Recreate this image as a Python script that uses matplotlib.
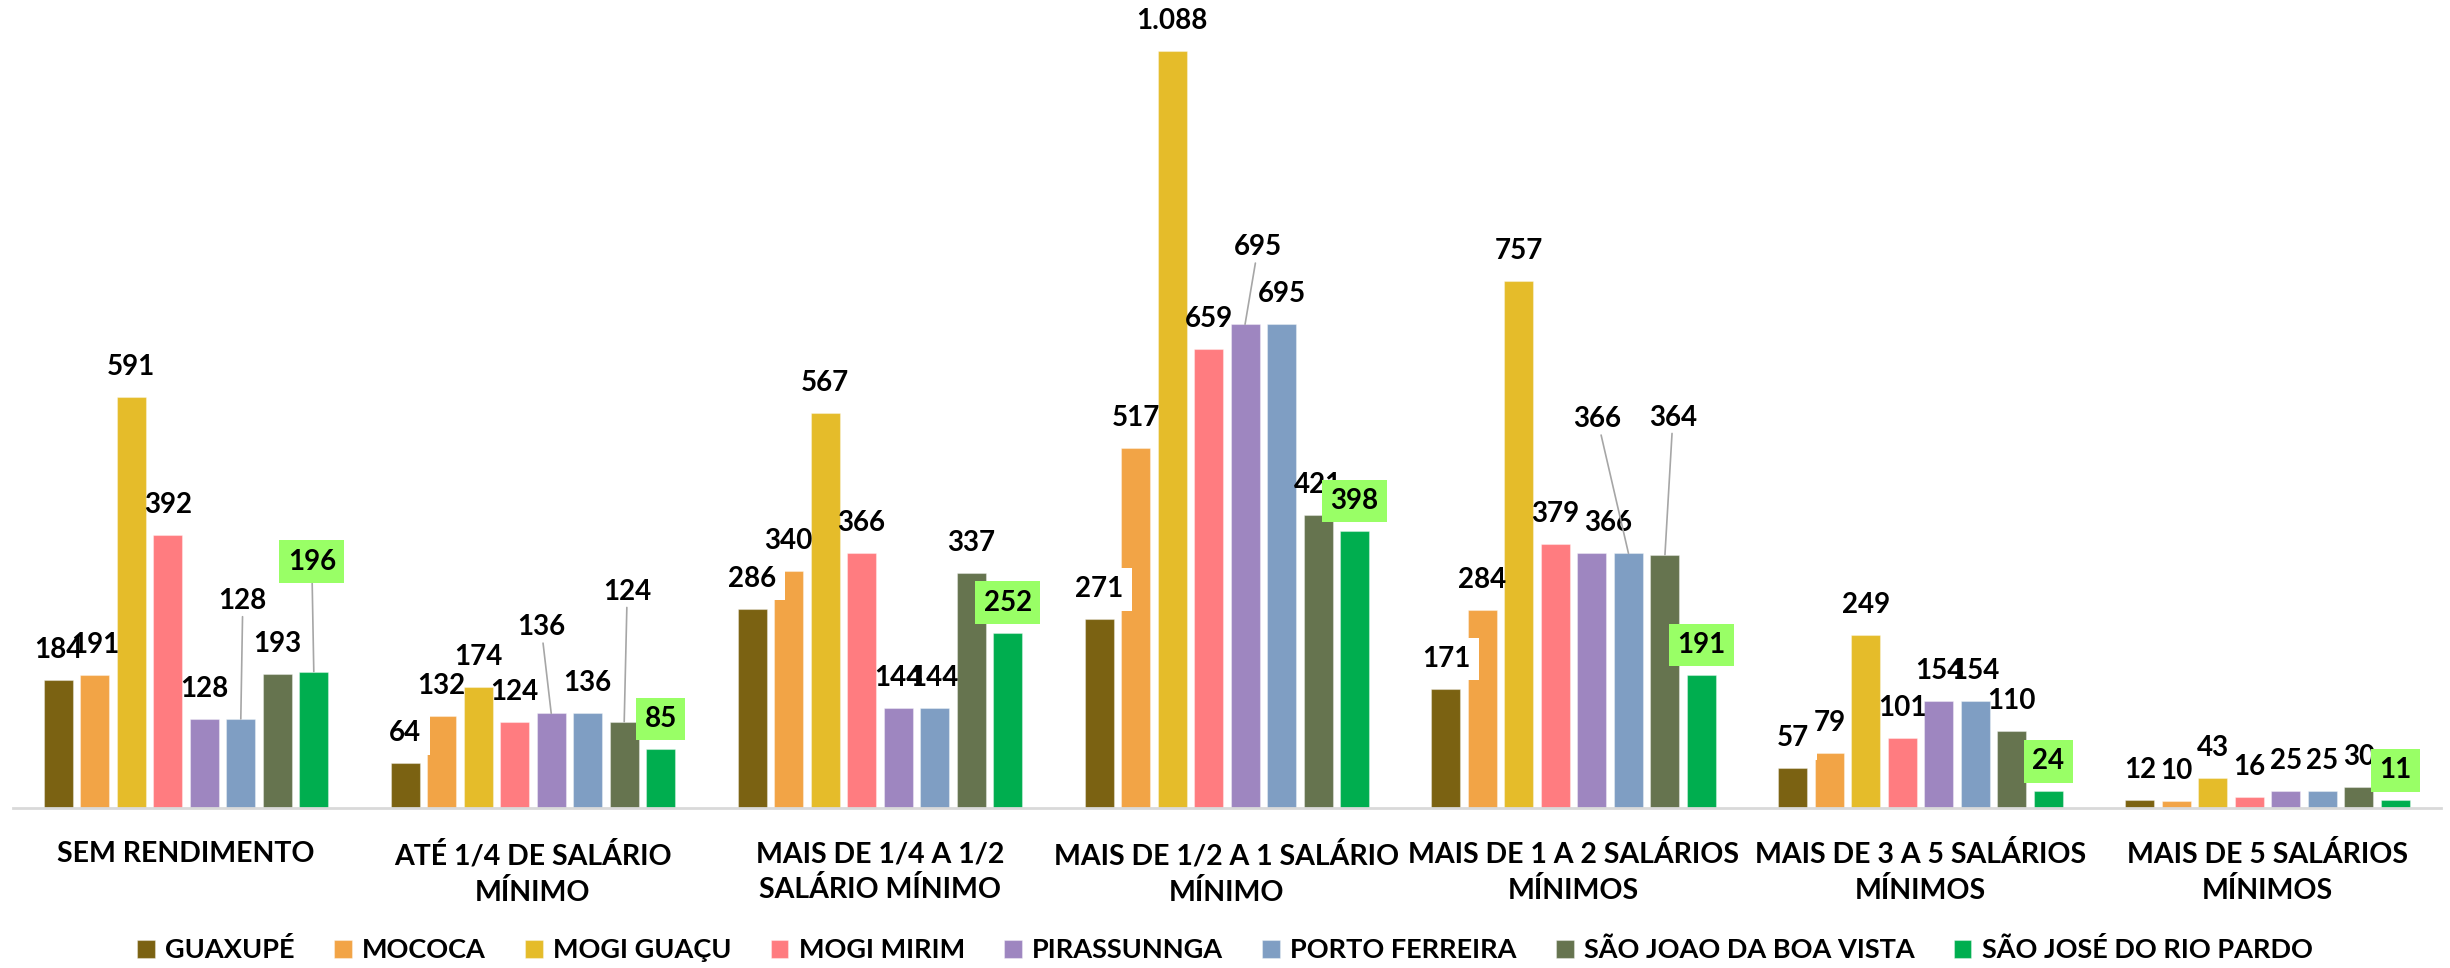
import matplotlib
matplotlib.use("Agg")
import matplotlib.pyplot as plt
import numpy as np

plt.rcParams['font.family'] = ['Lato', 'DejaVu Sans']
plt.rcParams['font.weight'] = 'bold'

categories = [
    "SEM RENDIMENTO",
    "ATÉ 1/4 DE SALÁRIO\nMÍNIMO",
    "MAIS DE 1/4 A 1/2\nSALÁRIO MÍNIMO",
    "MAIS DE 1/2 A 1 SALÁRIO\nMÍNIMO",
    "MAIS DE 1 A 2 SALÁRIOS\nMÍNIMOS",
    "MAIS DE 3 A 5 SALÁRIOS\nMÍNIMOS",
    "MAIS DE 5 SALÁRIOS\nMÍNIMOS",
]

series_names = ["GUAXUPÉ", "MOCOCA", "MOGI GUAÇU", "MOGI MIRIM", "PIRASSUNNGA",
                "PORTO FERREIRA", "SÃO JOAO DA BOA VISTA", "SÃO JOSÉ DO RIO PARDO"]

guaxupe        = [184, 64, 286, 271, 171, 57, 12]
mococa         = [191, 132, 340, 517, 284, 79, 10]
mogi_guacu     = [591, 174, 567, 1088, 757, 249, 43]
mogi_mirim     = [392, 124, 366, 659, 379, 101, 16]
pirassununga   = [128, 136, 144, 695, 366, 154, 25]
porto_ferreira = [128, 136, 144, 695, 366, 154, 25]
sao_joao       = [193, 124, 337, 421, 364, 110, 30]
sao_jose       = [196, 85, 252, 398, 191, 24, 11]

series_values = [guaxupe, mococa, mogi_guacu, mogi_mirim, pirassununga,
                 porto_ferreira, sao_joao, sao_jose]

colors = ["#7B6212", "#F2A446", "#E5BC2A", "#FF7C80", "#9E86C0",
          "#7F9EC3", "#66744F", "#00AE4F"]

# label placement tweaks (pixels): (group, series): (dx, up, leader)
PX = 0.72  # points per pixel at dpi 100
label_tweaks = {
    (0, 5): (2, 118, True),
    (0, 7): (-2, 110, True),
    (1, 4): (-10, 86, True),
    (1, 6): (3, 130, True),
    (3, 4): (13, 77, True),
    (4, 4): (16, 30, False),
    (4, 5): (-31, 134, True),
    (4, 6): (8, 137, True),
}

W, H = 2450, 968
fig = plt.figure(figsize=(W / 100, H / 100), dpi=100)
ax_left = 12.6 / W
ax_right = 2441 / W
ax_bottom = (H - 808) / H
ax = fig.add_axes([ax_left, ax_bottom, ax_right - ax_left, 1 - ax_bottom])

n_cat = len(categories)
n_ser = len(series_values)
x = np.arange(n_cat)
pitch = 0.1052
bw = 0.0836

for s, (vals, col, name) in enumerate(zip(series_values, colors, series_names)):
    xs = x + (s - (n_ser - 1) / 2) * pitch
    ax.bar(xs, vals, width=bw, color=col, label=name, zorder=2,
           edgecolor=(1, 1, 1, 0.35), linewidth=0.8)
    for g, (xx, v) in enumerate(zip(xs, vals)):
        dx, up, leader = label_tweaks.get((g, s), (0, 30, False))
        txt = f"{v:,}".replace(",", ".")
        kw = {}
        z = 3
        if s == 0:
            kw['bbox'] = dict(boxstyle='square,pad=0.3', facecolor='white', edgecolor='none')
        if s == n_ser - 1:
            kw['bbox'] = dict(boxstyle='square,pad=0.3', facecolor='#99FF66', edgecolor='none')
            z = 5
        if leader:
            kw['arrowprops'] = dict(arrowstyle='-', color='#A6A6A6', lw=1.2,
                                    shrinkA=0, shrinkB=0)
        ax.annotate(txt, xy=(xx, v), xytext=(dx * PX, up * PX),
                    textcoords='offset points', ha='center', va='center',
                    fontsize=20, fontweight='bold', color='black', zorder=z,
                    annotation_clip=False, **kw)

ax.set_xlim(-0.5, n_cat - 0.5)
ax.set_ylim(0, 1161)
ax.set_yticks([])
ax.set_xticks(x)
ax.set_xticklabels(categories, fontsize=20.5, fontweight='bold', linespacing=1.4)
ax.tick_params(axis='x', length=0, pad=24)
for sp in ['top', 'right', 'left']:
    ax.spines[sp].set_visible(False)
ax.spines['bottom'].set_color('#D9D9D9')
ax.spines['bottom'].set_linewidth(2)
ax.patch.set_alpha(0)

fig.legend(loc='center', bbox_to_anchor=(0.5, 1 - 950 / H), ncol=8, frameon=False,
           prop={'size': 19.5, 'weight': 'bold'}, handlelength=0.65, handleheight=0.65,
           handletextpad=0.38, columnspacing=1.45, borderaxespad=0)

fig.savefig("out.png", dpi=100, facecolor='white')
